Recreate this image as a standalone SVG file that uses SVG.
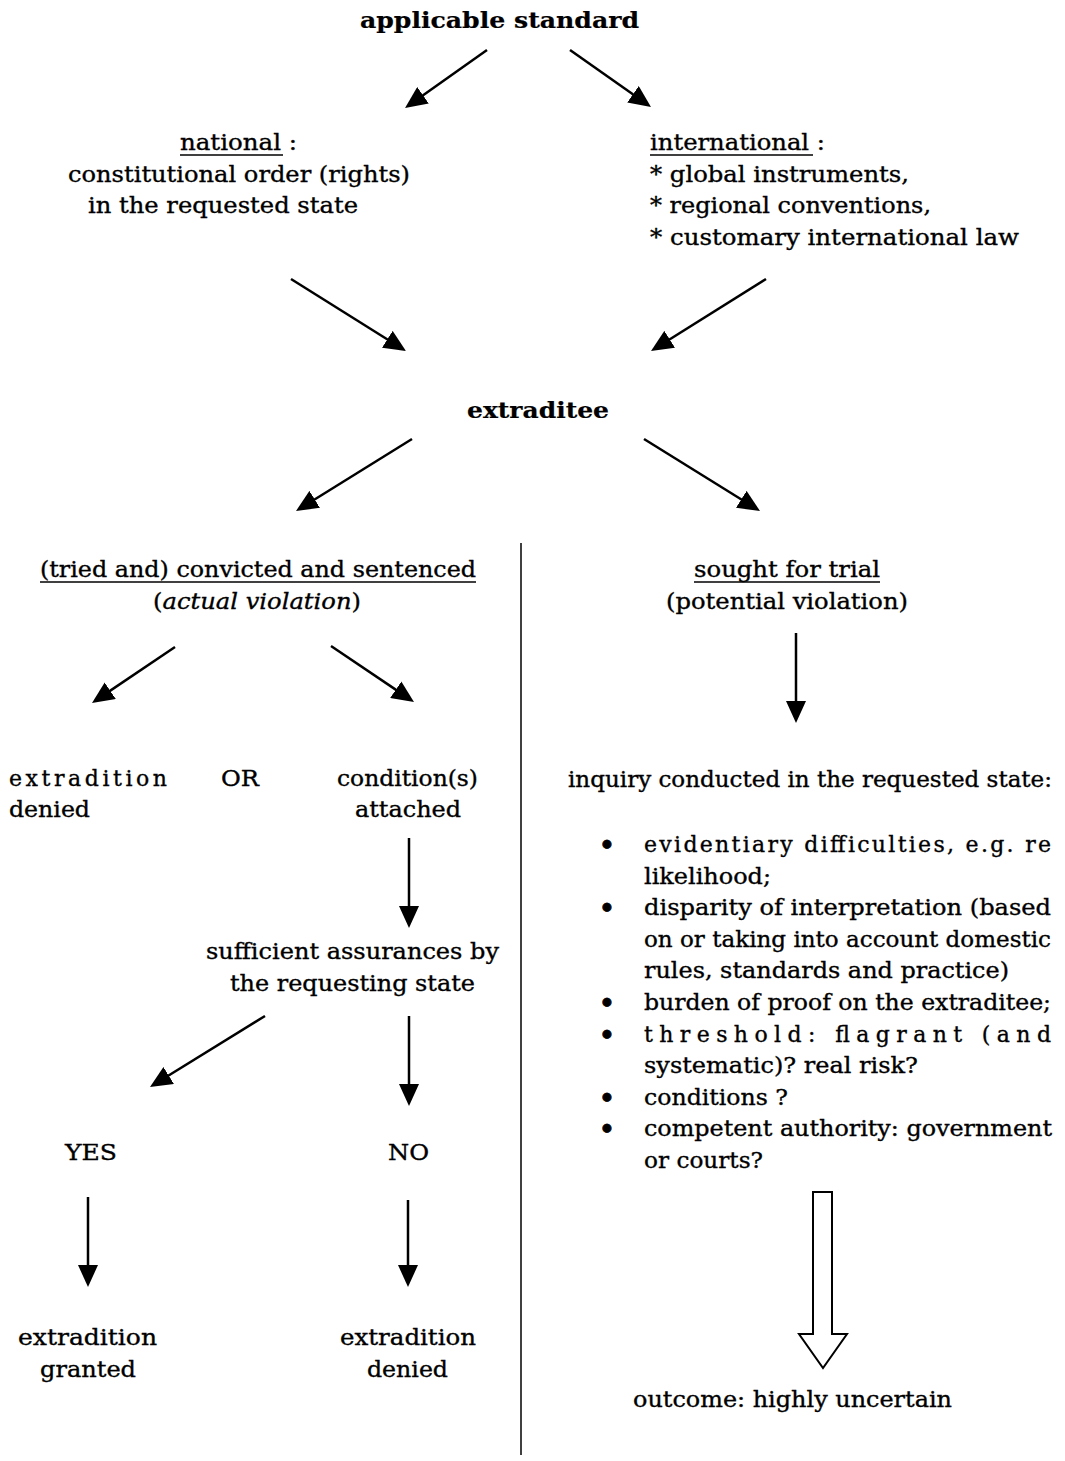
<svg xmlns="http://www.w3.org/2000/svg" width="1065" height="1461" viewBox="0 0 1065 1461">
<defs>
<style>
text{font-family:"DejaVu Serif","Liberation Serif",serif;font-size:22px;fill:#000;stroke:#000;stroke-width:0.35}
.b{font-weight:bold;stroke-width:0.2}
.it{font-style:italic}
.bl{font-size:24px;font-weight:bold;stroke-width:0.8}
.c{stroke:#000;stroke-width:2.5;fill:none;marker-end:url(#ah)}
.u{stroke:#000;stroke-width:1.3}
</style>
<marker id="ah" markerWidth="22" markerHeight="20" refX="12" refY="10" orient="auto" markerUnits="userSpaceOnUse">
<path d="M0,0 L22,10 L0,20 z" fill="#000"/>
</marker>
</defs>
<rect width="1065" height="1461" fill="#fff"/>

<g id="n-standard"><text class="b" x="360" y="28" textLength="279" lengthAdjust="spacingAndGlyphs">applicable standard</text></g>

<g id="n-national">
<text x="180" y="150" textLength="117" lengthAdjust="spacingAndGlyphs">national :</text>
<line class="u" x1="180" y1="155" x2="283" y2="155"/>
<text x="68" y="182" textLength="342" lengthAdjust="spacingAndGlyphs">constitutional order (rights)</text>
<text x="88" y="213" textLength="270" lengthAdjust="spacingAndGlyphs">in the requested state</text>
</g>

<g id="n-international">
<text x="650" y="150" textLength="175" lengthAdjust="spacingAndGlyphs">international :</text>
<line class="u" x1="650" y1="155" x2="813" y2="155"/>
<text x="650" y="182" textLength="259" lengthAdjust="spacingAndGlyphs">* global instruments,</text>
<text x="650" y="213" textLength="281" lengthAdjust="spacingAndGlyphs">* regional conventions,</text>
<text x="650" y="245" textLength="369" lengthAdjust="spacingAndGlyphs">* customary international law</text>
</g>

<g id="n-extraditee"><text class="b" x="467" y="418" textLength="142" lengthAdjust="spacingAndGlyphs">extraditee</text></g>

<g id="n-convicted">
<text x="40" y="577" textLength="436" lengthAdjust="spacingAndGlyphs">(tried and) convicted and sentenced</text>
<line class="u" x1="40" y1="582" x2="476" y2="582"/>
<text x="153" y="609" textLength="208" lengthAdjust="spacingAndGlyphs">(<tspan class="it">actual violation</tspan>)</text>
</g>

<g id="n-sought">
<text x="694" y="577" textLength="186" lengthAdjust="spacingAndGlyphs">sought for trial</text>
<line class="u" x1="694" y1="582" x2="880" y2="582"/>
<text x="666" y="609" textLength="242" lengthAdjust="spacingAndGlyphs">(potential violation)</text>
</g>

<g id="n-denied1">
<text x="9" y="786" textLength="158" lengthAdjust="spacing">extradition</text>
<text x="9" y="817" textLength="81" lengthAdjust="spacingAndGlyphs">denied</text>
</g>
<g id="n-or"><text x="221" y="786" textLength="38" lengthAdjust="spacingAndGlyphs">OR</text></g>
<g id="n-conditions">
<text x="337" y="786" textLength="141" lengthAdjust="spacingAndGlyphs">condition(s)</text>
<text x="355" y="817" textLength="106" lengthAdjust="spacingAndGlyphs">attached</text>
</g>

<g id="n-inquiry">
<text x="568" y="787" textLength="484" lengthAdjust="spacingAndGlyphs">inquiry conducted in the requested state:</text>
<text class="bl" x="607" y="853" text-anchor="middle">•</text>
<text x="644" y="852" textLength="407" lengthAdjust="spacing">evidentiary difficulties, e.g. re</text>
<text x="644" y="883.5" textLength="127" lengthAdjust="spacingAndGlyphs">likelihood;</text>
<text class="bl" x="607" y="916" text-anchor="middle">•</text>
<text x="644" y="915" textLength="407" lengthAdjust="spacingAndGlyphs">disparity of interpretation (based</text>
<text x="644" y="946.5" textLength="407" lengthAdjust="spacingAndGlyphs">on or taking into account domestic</text>
<text x="644" y="978" textLength="365" lengthAdjust="spacingAndGlyphs">rules, standards and practice)</text>
<text class="bl" x="607" y="1011" text-anchor="middle">•</text>
<text x="644" y="1010" textLength="407" lengthAdjust="spacingAndGlyphs">burden of proof on the extraditee;</text>
<text class="bl" x="607" y="1042.5" text-anchor="middle">•</text>
<text x="644" y="1041.5" textLength="407" lengthAdjust="spacing">threshold: flagrant (and</text>
<text x="644" y="1073" textLength="274" lengthAdjust="spacingAndGlyphs">systematic)? real risk?</text>
<text class="bl" x="607" y="1105.5" text-anchor="middle">•</text>
<text x="644" y="1104.5" textLength="144" lengthAdjust="spacingAndGlyphs">conditions ?</text>
<text class="bl" x="607" y="1137" text-anchor="middle">•</text>
<text x="644" y="1136" textLength="408" lengthAdjust="spacingAndGlyphs">competent authority: government</text>
<text x="644" y="1167.5" textLength="119" lengthAdjust="spacingAndGlyphs">or courts?</text>
</g>

<g id="n-assurances">
<text x="206" y="959" textLength="293" lengthAdjust="spacingAndGlyphs">sufficient assurances by</text>
<text x="230" y="991" textLength="245" lengthAdjust="spacingAndGlyphs">the requesting state</text>
</g>

<g id="n-yes"><text x="65" y="1160" textLength="52" lengthAdjust="spacingAndGlyphs">YES</text></g>
<g id="n-no"><text x="388" y="1160" textLength="41" lengthAdjust="spacingAndGlyphs">NO</text></g>

<g id="n-granted">
<text x="18" y="1345" textLength="139" lengthAdjust="spacingAndGlyphs">extradition</text>
<text x="40" y="1377" textLength="96" lengthAdjust="spacingAndGlyphs">granted</text>
</g>
<g id="n-denied2">
<text x="340" y="1345" textLength="136" lengthAdjust="spacingAndGlyphs">extradition</text>
<text x="367" y="1377" textLength="81" lengthAdjust="spacingAndGlyphs">denied</text>
</g>

<g id="n-outcome"><text x="633" y="1407" textLength="319" lengthAdjust="spacingAndGlyphs">outcome: highly uncertain</text></g>

<g id="connectors">
<line class="c" x1="487" y1="50" x2="413.2" y2="102.2"/>
<line class="c" x1="570" y1="50" x2="642.8" y2="101.2"/>
<line class="c" x1="291" y1="279" x2="397.5" y2="345.7"/>
<line class="c" x1="766" y1="279" x2="659.5" y2="345.7"/>
<line class="c" x1="412" y1="439" x2="304.5" y2="505.7"/>
<line class="c" x1="644" y1="439" x2="751.5" y2="505.7"/>
<line class="c" x1="175" y1="647" x2="100.3" y2="697.4"/>
<line class="c" x1="331" y1="646" x2="405.7" y2="696.4"/>
<line class="c" x1="265" y1="1016" x2="158.5" y2="1081.8"/>
<line class="c" x1="796" y1="633" x2="796" y2="713"/>
<line class="c" x1="409" y1="838" x2="409" y2="918"/>
<line class="c" x1="409" y1="1016" x2="409" y2="1096"/>
<line class="c" x1="88" y1="1197" x2="88" y2="1277"/>
<line class="c" x1="408" y1="1200" x2="408" y2="1277"/>
<polygon points="813,1192 832,1192 832,1334 847,1334 823,1368 799,1334 813,1334" fill="#fff" stroke="#000" stroke-width="2"/>
<line x1="521" y1="543" x2="521" y2="1455" stroke="#000" stroke-width="1.5"/>
</g>
</svg>
